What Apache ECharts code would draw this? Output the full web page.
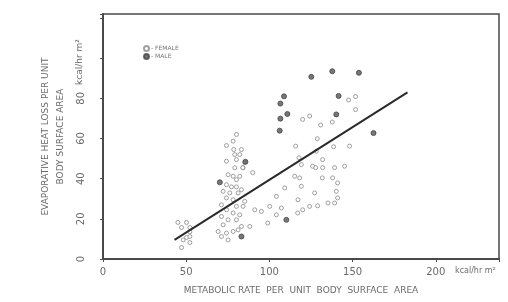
<!DOCTYPE html>
<html>
<head>
<meta charset="utf-8">
<script src="https://cdn.jsdelivr.net/npm/echarts@6/dist/echarts.min.js"></script>
<style>
  html, body { margin: 0; padding: 0; background: #fff; }
  #main { width: 508px; height: 302px; }
</style>
</head>
<body>
<div id="main"></div>
<script>
// open circles
const femalePoints = [
    [45.0, 18.2], [50.2, 18.2], [52.2, 15.7], [50.2, 10.7], [52.2, 8.2], [47.2, 5.7],
    [47.2, 15.7], [48.2, 9.5], [52.2, 11.2], [52.2, 13.5],
    [80.2, 62], [78.2, 58.7], [74.2, 56.5], [78.6, 54.5], [83.2, 54.5], [79.2, 52],
    [82.2, 52], [80.2, 49.5], [74.2, 48.7], [79.2, 45.4], [84.2, 45.4], [75.2, 42],
    [78.2, 41.2], [82.2, 41.2], [80.2, 39.5], [74.2, 37], [77.2, 35.9], [80.2, 35.9],
    [83.2, 34.5], [72.2, 33.7], [76.2, 32.9], [81.2, 32.9], [74.2, 30.4], [78.2, 29.5],
    [85.2, 28.7], [71.2, 27], [80.2, 26.2], [84.2, 26.2], [74.2, 24.5], [78.2, 22.9],
    [82.2, 22], [71.2, 21.2], [75.2, 19.5], [80.2, 19.5], [83.2, 16.2], [72.2, 17],
    [69.2, 13.7], [74.2, 12.9], [78.2, 13.7], [81.2, 14.5], [71.2, 11.2], [75.2, 9.5],
    [85.2, 48], [90, 43], [84, 45.5], [91.2, 24.5], [95.2, 23.7], [100.2, 26.2],
    [88.2, 16.2], [99, 17.9], [104.2, 22], [107.2, 25.4], [104.2, 31.2], [109.2, 35.4],
    [117.2, 29.5], [117, 22.9], [120, 24.5], [124.2, 26.2], [129, 26.5], [135.2, 27.9],
    [139.2, 27.9], [141, 30.4], [140.2, 33.7], [127.2, 32.9], [119.2, 36.2], [141, 37.9],
    [138, 40.4], [131.8, 40.4], [118.2, 40.4], [115.2, 41.2], [119.2, 47], [126, 46.2],
    [127.8, 45.5], [132, 45.5], [139.2, 45.5], [145.2, 46.2], [132, 49.5], [128.2, 53.7],
    [117.8, 50.4], [115.8, 56.2], [138.6, 55.9], [148.2, 56.2], [128.8, 59.9],
    [130.8, 66.7], [137.8, 68.2], [120, 69.5], [124.2, 71.2], [147.6, 79.2],
    [151.8, 80.9], [151.8, 74.4]
];
// filled circles
const malePoints = [
    [85.6, 48.4], [70.2, 38.2], [83.2, 11.2], [110.2, 19.5], [162.6, 62.7], [106.2, 63.9],
    [140.2, 72], [110.8, 72.2], [106.6, 69.9], [141.6, 81.2], [108.8, 81], [106.6, 77.4],
    [125.2, 90.7], [137.8, 93.5], [153.8, 92.7]
];
const fitLine = [[43, 9.5], [183, 83]];
const xTicks = [0, 50, 100, 150, 200];
const yTicks = [0, 20, 40, 60, 80];

let myChart = echarts.init(document.getElementById('main'));
const ink = '#4a4a4a';
const txt = '#6a6a6a';
const font = 'DejaVu Sans';

let option = {
    backgroundColor: '#fff',
    animation: false,
    textStyle: { fontFamily: font },
    grid: {
        left: 103, top: 14, right: 9, bottom: 43,
        show: true, borderColor: ink, borderWidth: 1.5
    },
    legend: {
        orient: 'vertical',
        left: 138, top: 40,
        itemWidth: 5, itemHeight: 5, itemGap: 1,
        data: ['FEMALE', 'MALE'],
        formatter: n => '- ' + n,
        textStyle: { fontSize: 6, color: '#777', padding: [0, 0, 0, -3] }
    },
    xAxis: {
        type: 'value', min: 0, max: 238, interval: 50,
        name: 'METABOLIC RATE  PER  UNIT  BODY  SURFACE  AREA',
        nameLocation: 'middle', nameGap: 27,
        nameTextStyle: { fontSize: 9, color: txt },
        axisLine: { lineStyle: { color: ink, width: 2 } },
        axisTick: { show: true, length: 3, lineStyle: { color: ink } },
        axisLabel: {
            fontSize: 10, color: txt, margin: 8,
            formatter: v => xTicks.indexOf(v) >= 0 ? String(v) : ''
        },
        splitLine: { show: false }
    },
    yAxis: {
        type: 'value', min: 0, max: 122, interval: 20,
        name: 'EVAPORATIVE HEAT LOSS PER UNIT\nBODY SURFACE AREA',
        nameLocation: 'middle', nameGap: 33,
        nameTextStyle: { fontSize: 9, color: txt, lineHeight: 15 },
        axisLine: { lineStyle: { color: ink, width: 2 } },
        axisTick: { show: true, length: 3, lineStyle: { color: ink } },
        axisLabel: {
            fontSize: 10, color: txt, rotate: 90, margin: 17,
            formatter: v => yTicks.indexOf(v) >= 0 ? String(v) : ''
        },
        splitLine: { show: false }
    },
    graphic: [
        {
            type: 'text', left: 455, top: 267,
            style: { text: 'kcal/hr m²', fontSize: 8, fill: txt, fontFamily: font }
        },
        {
            type: 'text', x: 80, y: 62, rotation: Math.PI / 2,
            style: { text: 'kcal/hr m²', fontSize: 9, fill: txt, fontFamily: font,
                     align: 'center', verticalAlign: 'middle' }
        }
    ],
    series: [
        {
            name: 'FEMALE', type: 'scatter', data: femalePoints,
            symbol: 'circle', symbolSize: 4,
            itemStyle: { color: '#fff', borderColor: '#888', borderWidth: 1 }
        },
        {
            name: 'MALE', type: 'scatter', data: malePoints,
            symbol: 'circle', symbolSize: 5,
            itemStyle: { color: '#555', borderColor: '#444', borderWidth: 1 }
        },
        {
            type: 'line', data: fitLine, symbol: 'none', silent: true,
            lineStyle: { color: '#2a2a2a', width: 2 }
        }
    ]
};
myChart.setOption(option);
</script>
</body>
</html>
